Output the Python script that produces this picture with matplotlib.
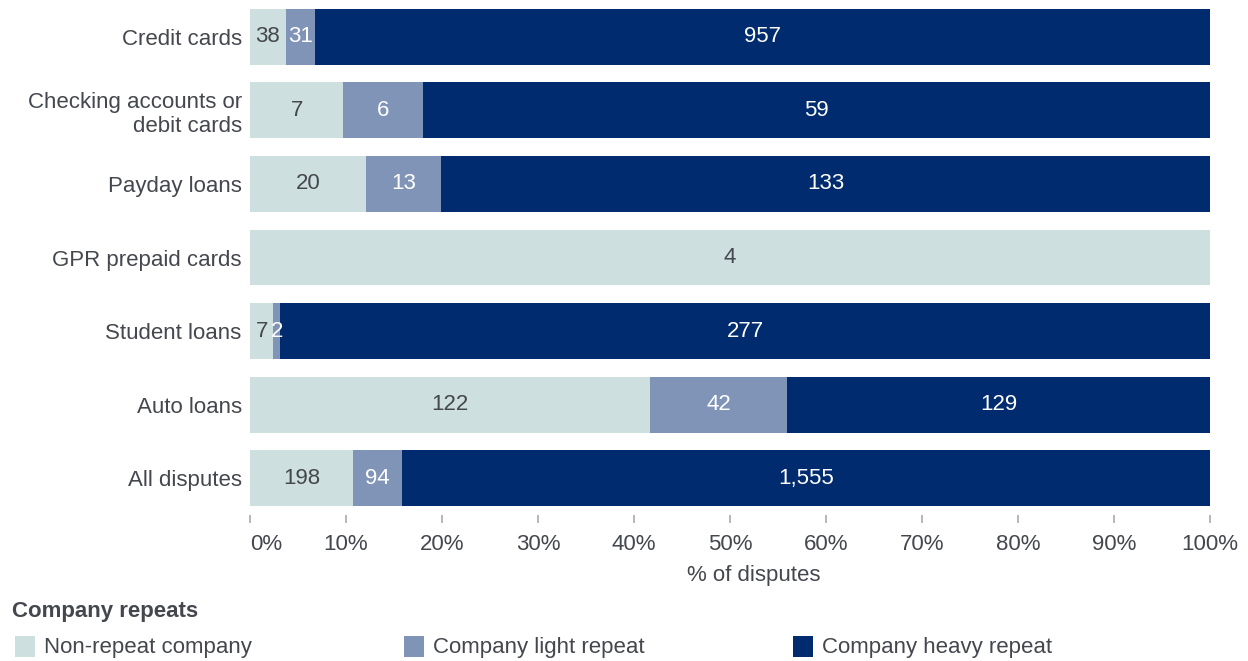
import matplotlib.pyplot as plt
from matplotlib.patches import Rectangle

plt.rcParams['font.family'] = ['Liberation Sans', 'DejaVu Sans']

categories = ['Credit cards', 'Checking accounts or\ndebit cards', 'Payday loans',
              'GPR prepaid cards', 'Student loans', 'Auto loans', 'All disputes']
non_repeat = [38, 7, 20, 4, 7, 122, 198]
light_repeat = [31, 6, 13, 0, 2, 42, 94]
heavy_repeat = [957, 59, 133, 0, 277, 129, 1555]

series_names = ['Non-repeat company', 'Company light repeat', 'Company heavy repeat']
colors = ['#cddfdf', '#8094b8', '#002b6e']
text_colors = ['#44474d', 'white', 'white']
ticks = [0, 10, 20, 30, 40, 50, 60, 70, 80, 90, 100]

fs = 16
fig = plt.figure(figsize=(12.48, 6.61), dpi=100)
ax = fig.add_axes([250/1248, 1-515/661, 960/1248, 515/661])

series = [non_repeat, light_repeat, heavy_repeat]
totals = [sum(s[i] for s in series) for i in range(len(categories))]
y = list(range(len(categories)))
left = [0.0]*len(categories)
for k, s in enumerate(series):
    pct = [100.0*v/t for v, t in zip(s, totals)]
    ax.barh(y, pct, left=left, height=0.76, color=colors[k], linewidth=0)
    for i, v in enumerate(s):
        if v > 0:
            ax.text(left[i]+pct[i]/2, y[i], '{:,}'.format(v), ha='center', va='center',
                    fontsize=fs, color=text_colors[k])
    left = [a+b for a, b in zip(left, pct)]

ax.set_xlim(0, 100)
ax.set_ylim(len(categories)-0.5, -0.5)
ax.set_yticks(y)
ax.set_yticklabels(categories, fontsize=fs, color='#44474d', multialignment='right')
ax.tick_params(axis='y', length=0, pad=6)
ax.set_xticks(ticks)
ax.set_xticklabels([str(t)+'%' for t in ticks], fontsize=fs, color='#44474d')
ax.tick_params(axis='x', length=6, width=1.2, color='#aaaaaa', pad=8)
labs = ax.get_xticklabels()
labs[0].set_horizontalalignment('left')
for sp in ax.spines.values():
    sp.set_visible(False)
ax.set_xlabel('% of disputes', fontsize=fs, color='#44474d')
ax.xaxis.set_label_coords(0.525, -0.098)

# legend
fig.text(12/1248, 1-612/661, 'Company repeats', fontsize=fs, fontweight='bold',
         color='#44474d', va='center', ha='left')
leg_x = [15, 404, 793]
for k in range(3):
    fig.patches.append(Rectangle((leg_x[k]/1248, 1-657/661), 20/1248, 21/661,
                                 transform=fig.transFigure, color=colors[k], linewidth=0))
    fig.text((leg_x[k]+29)/1248, 1-647/661, series_names[k], fontsize=fs,
             color='#44474d', va='center', ha='left')

fig.savefig('out.png', dpi=100)
